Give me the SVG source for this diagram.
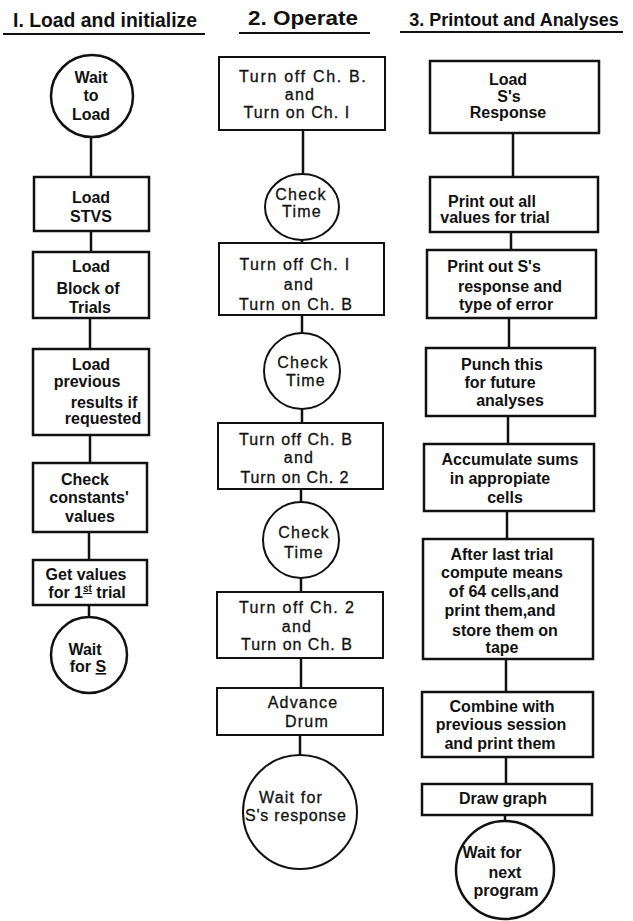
<svg xmlns="http://www.w3.org/2000/svg" width="633" height="921" viewBox="0 0 633 921">
<style>
.bg{fill:#fff}
.box{fill:none;stroke:#111;stroke-width:2.5}
.box2{fill:none;stroke:#111;stroke-width:2}
.ln{stroke:#111;stroke-width:2.5;fill:none}
.ul{stroke:#111;stroke-width:2}
text{font-family:"Liberation Sans","DejaVu Sans",Arial,sans-serif;fill:#111;text-anchor:middle}
.t{font-size:20px;font-weight:bold}
.b{font-size:16px;font-weight:bold}
.r{font-size:16px;font-weight:normal;letter-spacing:1.2px;stroke:#111;stroke-width:0.3}
</style>
<rect class="bg" x="0" y="0" width="633" height="921"/>

<g id="titles">
<text class="t" x="105" y="27" textLength="184" lengthAdjust="spacingAndGlyphs">I. Load and initialize</text>
<line class="ul" x1="3" y1="34" x2="205" y2="34"/>
<text class="t" x="303" y="25" textLength="110" lengthAdjust="spacingAndGlyphs">2. Operate</text>
<line class="ul" x1="239" y1="33" x2="370" y2="33"/>
<text class="t" x="514" y="26" style="font-size:18px">3. Printout and Analyses</text>
<line class="ul" x1="400" y1="32" x2="623" y2="32"/>
</g>

<g id="connectors">
<line class="ln" x1="91" y1="137" x2="91" y2="177"/>
<line class="ln" x1="91" y1="231" x2="91" y2="252"/>
<line class="ln" x1="90" y1="318" x2="90" y2="349"/>
<line class="ln" x1="90" y1="435" x2="90" y2="463"/>
<line class="ln" x1="89" y1="532" x2="89" y2="560"/>
<line class="ln" x1="89" y1="605" x2="89" y2="617"/>

<line class="ln" x1="303" y1="130" x2="303" y2="173"/>
<line class="ln" x1="302" y1="240" x2="302" y2="243"/>
<line class="ln" x1="302" y1="315" x2="302" y2="333"/>
<line class="ln" x1="302" y1="409" x2="302" y2="423"/>
<line class="ln" x1="301" y1="489" x2="301" y2="502"/>
<line class="ln" x1="301" y1="578" x2="301" y2="592"/>
<line class="ln" x1="301" y1="658" x2="301" y2="688"/>
<line class="ln" x1="300" y1="735" x2="300" y2="755"/>

<line class="ln" x1="513" y1="133" x2="513" y2="177"/>
<line class="ln" x1="511" y1="232" x2="511" y2="250"/>
<line class="ln" x1="509" y1="318" x2="509" y2="348"/>
<line class="ln" x1="508" y1="416" x2="508" y2="444"/>
<line class="ln" x1="507" y1="511" x2="507" y2="539"/>
<line class="ln" x1="506" y1="659" x2="506" y2="692"/>
<line class="ln" x1="506" y1="757" x2="506" y2="784"/>
<line class="ln" x1="505" y1="815" x2="505" y2="821"/>
</g>

<g id="n1-wait-to-load">
<circle class="box" cx="92" cy="96" r="41"/>
<text class="b" x="91" y="83">Wait</text>
<text class="b" x="91" y="101">to</text>
<text class="b" x="91" y="120">Load</text>
</g>
<g id="n1-load-stvs">
<rect class="box" x="34" y="177" width="115" height="54"/>
<text class="b" x="91" y="203">Load</text>
<text class="b" x="91" y="222">STVS</text>
</g>
<g id="n1-load-block">
<rect class="box" x="33" y="252" width="116" height="66"/>
<text class="b" x="91" y="272">Load</text>
<text class="b" x="88" y="294">Block of</text>
<text class="b" x="90" y="313">Trials</text>
</g>
<g id="n1-load-previous">
<rect class="box" x="33" y="349" width="116" height="86"/>
<text class="b" x="91" y="370">Load</text>
<text class="b" x="87" y="387">previous</text>
<text class="b" x="104" y="408">results if</text>
<text class="b" x="103" y="424">requested</text>
</g>
<g id="n1-check-constants">
<rect class="box" x="33" y="463" width="114" height="69"/>
<text class="b" x="85" y="485">Check</text>
<text class="b" x="89" y="503">constants'</text>
<text class="b" x="90" y="522">values</text>
</g>
<g id="n1-get-values">
<rect class="box" x="33" y="560" width="114" height="45"/>
<text class="b" x="86" y="580">Get values</text>
<text class="b" x="87" y="598">for 1<tspan font-size="10" dy="-6" text-decoration="underline">st</tspan><tspan dy="6"> trial</tspan></text>
</g>
<g id="n1-wait-for-s">
<circle class="box" cx="89" cy="655" r="38"/>
<text class="b" x="85" y="655">Wait</text>
<text class="b" x="88" y="672">for <tspan text-decoration="underline">S</tspan></text>
</g>

<g id="n2-turn-off-chb-on-ch1">
<rect class="box2" x="219" y="57" width="166" height="73"/>
<text class="r" x="303" y="82" textLength="128">Turn off Ch. B.</text>
<text class="r" x="300" y="100">and</text>
<text class="r" x="297" y="118" textLength="107">Turn on Ch. I</text>
</g>
<g id="n2-check-time-1">
<ellipse class="box2" cx="302" cy="207" rx="37" ry="33"/>
<text class="r" x="301" y="200">Check</text>
<text class="r" x="302" y="217">Time</text>
</g>
<g id="n2-turn-off-ch1-on-chb">
<rect class="box2" x="219" y="243" width="165" height="72"/>
<text class="r" x="295" y="270" textLength="111">Turn off Ch. I</text>
<text class="r" x="299" y="290">and</text>
<text class="r" x="296" y="310" textLength="114">Turn on Ch. B</text>
</g>
<g id="n2-check-time-2">
<circle class="box2" cx="302" cy="371" r="38"/>
<text class="r" x="303" y="368">Check</text>
<text class="r" x="306" y="386">Time</text>
</g>
<g id="n2-turn-off-chb-on-ch2">
<rect class="box2" x="218" y="423" width="165" height="66"/>
<text class="r" x="296" y="445" textLength="114">Turn off Ch. B</text>
<text class="r" x="299" y="463">and</text>
<text class="r" x="295" y="483" textLength="109">Turn on Ch. 2</text>
</g>
<g id="n2-check-time-3">
<circle class="box2" cx="301" cy="540" r="38"/>
<text class="r" x="304" y="538">Check</text>
<text class="r" x="304" y="558">Time</text>
</g>
<g id="n2-turn-off-ch2-on-chb">
<rect class="box2" x="217" y="592" width="166" height="66"/>
<text class="r" x="297" y="613" textLength="116">Turn off Ch. 2</text>
<text class="r" x="297" y="632">and</text>
<text class="r" x="297" y="650" textLength="112">Turn on Ch. B</text>
</g>
<g id="n2-advance-drum">
<rect class="box2" x="217" y="688" width="166" height="47"/>
<text class="r" x="303" y="708">Advance</text>
<text class="r" x="307" y="727">Drum</text>
</g>
<g id="n2-wait-response">
<circle class="box2" cx="300" cy="812" r="57"/>
<text class="r" x="291" y="803">Wait for</text>
<text class="r" x="296" y="821" textLength="102">S's response</text>
</g>

<g id="n3-load-response">
<rect class="box" x="430" y="61" width="169" height="72"/>
<text class="b" x="508" y="85">Load</text>
<text class="b" x="509" y="102">S's</text>
<text class="b" x="508" y="118">Response</text>
</g>
<g id="n3-print-all">
<rect class="box" x="430" y="177" width="168" height="55"/>
<text class="b" x="492" y="207">Print out all</text>
<text class="b" x="495" y="223">values for trial</text>
</g>
<g id="n3-print-response">
<rect class="box" x="427" y="250" width="169" height="68"/>
<text class="b" x="494" y="272">Print out S's</text>
<text class="b" x="510" y="292">response and</text>
<text class="b" x="506" y="310">type of error</text>
</g>
<g id="n3-punch">
<rect class="box" x="426" y="348" width="169" height="68"/>
<text class="b" x="502" y="370">Punch this</text>
<text class="b" x="500" y="388">for future</text>
<text class="b" x="510" y="406">analyses</text>
</g>
<g id="n3-accumulate">
<rect class="box" x="424" y="444" width="170" height="67"/>
<text class="b" x="510" y="465">Accumulate sums</text>
<text class="b" x="500" y="484">in appropiate</text>
<text class="b" x="505" y="503">cells</text>
</g>
<g id="n3-after-last">
<rect class="box" x="423" y="539" width="170" height="120"/>
<text class="b" x="502" y="560">After last trial</text>
<text class="b" x="502" y="578">compute means</text>
<text class="b" x="504" y="597">of 64 cells,and</text>
<text class="b" x="500" y="616">print them,and</text>
<text class="b" x="505" y="636">store them on</text>
<text class="b" x="502" y="653">tape</text>
</g>
<g id="n3-combine">
<rect class="box" x="422" y="692" width="171" height="65"/>
<text class="b" x="502" y="712">Combine with</text>
<text class="b" x="501" y="730">previous session</text>
<text class="b" x="500" y="749">and print them</text>
</g>
<g id="n3-draw-graph">
<rect class="box" x="422" y="784" width="170" height="31"/>
<text class="b" x="503" y="804">Draw graph</text>
</g>
<g id="n3-wait-next">
<circle class="box" cx="505" cy="870" r="49"/>
<text class="b" x="492" y="858">Wait for</text>
<text class="b" x="505" y="878">next</text>
<text class="b" x="506" y="896">program</text>
</g>
</svg>
